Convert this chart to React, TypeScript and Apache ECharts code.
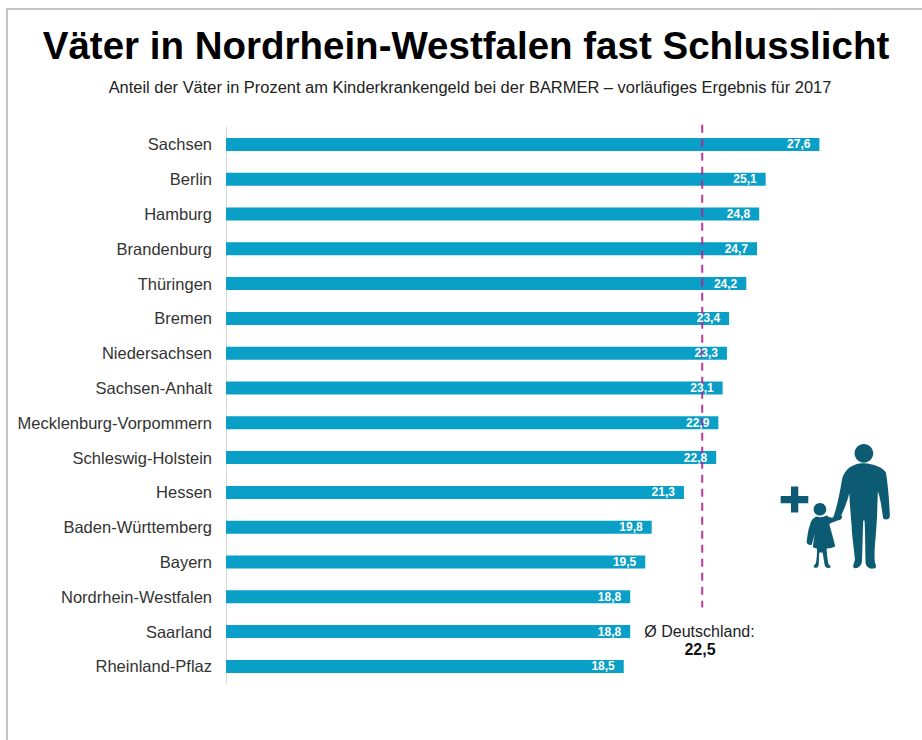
import React, { useEffect, useRef } from "react";
import * as echarts from "echarts";

const titleText = "Väter in Nordrhein-Westfalen fast Schlusslicht";
const subtitleText = "Anteil der Väter in Prozent am Kinderkrankengeld bei der BARMER – vorläufiges Ergebnis für 2017";
const categories = [
  "Sachsen", "Berlin", "Hamburg", "Brandenburg", "Thüringen", "Bremen", "Niedersachsen", "Sachsen-Anhalt",
  "Mecklenburg-Vorpommern", "Schleswig-Holstein", "Hessen", "Baden-Württemberg", "Bayern",
  "Nordrhein-Westfalen", "Saarland", "Rheinland-Pflaz",
];
const values = [27.6, 25.1, 24.8, 24.7, 24.2, 23.4, 23.3, 23.1, 22.9, 22.8, 21.3, 19.8, 19.5, 18.8, 18.8, 18.5];
// The dashed line sits here on the bar scale in the picture, although it is labelled 22,5.
const averageLinePosition = 22.15;
const averageLineSpan = [1.004, 0.137];
const averageLabel = "Ø Deutschland:";
const averageValue = "22,5";

const iconPath =
  "M312 42C328 42 340 55 340 70C340 85 328 98 312 98C296 98 284 85 284 70C284 55 296 42 312 42Z" +
  "M312 100C340 102 370 112 378 128C384 160 388 215 390 258C390 268 378 272 370 266C366 240 362 205 354 185C352 230 352 270 348 310C346 340 342 370 345 398C350 408 350 416 340 416C328 418 318 410 317 398C316 360 316 310 314 272L310 272C308 320 308 360 306 396C304 410 292 418 282 414C276 410 284 400 285 388C282 350 276 320 275 285C272 250 270 225 268 190C262 215 252 240 244 256C250 262 244 272 232 272C222 276 212 274 206 268L220 262C230 235 240 190 246 150C250 130 262 112 285 104C294 101 303 100 312 100Z" +
  "M170 260C180 263 190 262 200 257C206 262 215 265 225 262L232 272C224 276 214 278 208 282C214 305 222 330 226 350C218 354 210 356 200 356C201 375 203 392 206 404C212 408 216 413 208 414C200 416 195 412 194 405C192 392 190 380 188 368L178 368C177 382 177 396 176 406C174 414 168 416 162 412C160 408 164 404 168 400C170 385 172 370 171 356C167 355 163 354 159 352C160 340 162 325 165 310C162 322 158 335 156 344C150 348 142 344 140 338C142 320 144 300 150 285C152 272 160 264 170 260Z" +
  "M180 219C191 219 199 228 199 238C199 248 191 257 180 257C169 257 161 248 161 238C161 228 169 219 180 219Z" +
  "M93 170L115 170L115 198L145 198L145 220L115 220L115 248L93 248L93 220L62 220L62 198L93 198Z";

const FONT = "'Liberation Sans', Arial, sans-serif";

export default function App() {
  const ref = useRef<HTMLDivElement>(null);
  useEffect(() => {
    document.body.style.margin = "0";
    document.body.style.background = "#fff";
    echarts.graphic.registerShape("familyIcon", echarts.graphic.extendPath(iconPath, {}) as any);
    const chart = echarts.init(ref.current!, undefined, { renderer: "svg" });
    chart.setOption({
      animation: false,
      backgroundColor: "#ffffff",
      grid: { left: 226, top: 127, width: 645, height: 556.8 },
      xAxis: { type: "value", min: 0, max: 30, show: false },
      yAxis: [
        {
          type: "category",
          data: categories,
          inverse: true,
          axisLine: { show: true, lineStyle: { color: "#d9d9d9", width: 1 } },
          axisTick: { show: false },
          splitLine: { show: false },
          axisLabel: { color: "#333333", fontFamily: FONT, fontSize: 16.5, margin: 14 },
        },
        { type: "value", min: 0, max: 1, show: false },
      ],
      series: [
        {
          type: "bar",
          data: values,
          barWidth: 13,
          itemStyle: { color: "#0a9fc6" },
          z: 2,
        },
        {
          type: "line",
          yAxisIndex: 1,
          data: averageLineSpan.map((y) => [averageLinePosition, y]),
          symbol: "none",
          silent: true,
          clip: false,
          z: 3,
          lineStyle: { color: "#b5248c", width: 2, type: [8, 6], opacity: 0.9 },
        },
        {
          type: "bar",
          data: values,
          barWidth: 13,
          barGap: "-100%",
          itemStyle: { color: "transparent" },
          z: 4,
          label: {
            show: true,
            position: "insideRight",
            distance: 9,
            color: "#ffffff",
            fontFamily: FONT,
            fontWeight: "bold",
            fontSize: 12,
            formatter: (p: any) => String(p.value.toFixed(1)).replace(".", ","),
          },
        },
      ],
      graphic: [
        { type: "rect", shape: { x: 7, y: 9, width: 930, height: 760 }, style: { fill: "none", stroke: "#c4c4c4", lineWidth: 2 }, silent: true, z: 0 },
        { type: "text", x: 466, y: 45, style: { text: titleText, font: `bold 38.5px ${FONT}`, fill: "#000000", textAlign: "center", textVerticalAlign: "middle" } },
        { type: "text", x: 470, y: 87, style: { text: subtitleText, font: `16.45px ${FONT}`, fill: "#222222", textAlign: "center", textVerticalAlign: "middle" } },
        { type: "text", x: 699.5, y: 631, style: { text: averageLabel, font: `16px ${FONT}`, fill: "#222222", textAlign: "center", textVerticalAlign: "middle" } },
        { type: "text", x: 700, y: 649, style: { text: averageValue, font: `bold 16px ${FONT}`, fill: "#111111", textAlign: "center", textVerticalAlign: "middle" } },
        { type: "familyIcon", x: 760, y: 430, scaleX: 1 / 3, scaleY: 1 / 3, style: { fill: "#0d5a73" } },
      ],
    });
    return () => chart.dispose();
  }, []);
  return <div ref={ref} style={{ width: 922, height: 740 }} />;
}
